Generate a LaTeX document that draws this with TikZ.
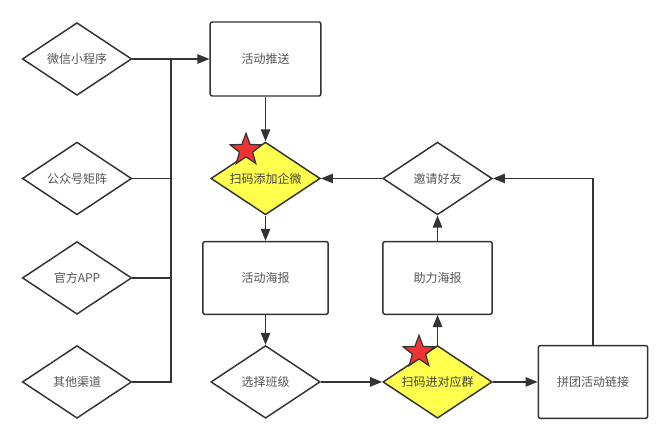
\documentclass[tikz,border=0pt]{standalone}
\usepackage{fontspec}
\newfontfamily\cjk{Noto Sans CJK SC}
\usepackage{tikz}
\usetikzlibrary{arrows.meta,shapes.geometric,positioning,calc}

\definecolor{linegray}{HTML}{333333}
\definecolor{textgray}{HTML}{555555}
\definecolor{mark yellow}{HTML}{FFFF4D}
\definecolor{mark red}{HTML}{EE3333}

\begin{document}
\begin{tikzpicture}[x=0.75pt,y=-0.75pt,->,>={Triangle[length=9pt,width=7pt]},
  line width=1.1pt,draw=linegray,
  choice node/.style={diamond,draw=linegray,fill=white,aspect=1.5,inner sep=0pt,
  minimum width=82pt,minimum height=54.5pt,text=textgray,
  font=\cjk\fontsize{9}{11}\selectfont},
  hot node/.style={choice node,fill=mark yellow,text=black!75},
  step node/.style={rectangle,rounded corners=1.5pt,draw=linegray,fill=white,
  minimum width=82pt,minimum height=54.5pt,text=textgray,
  font=\cjk\fontsize{9}{11}\selectfont},
  star node/.style={star,star points=5,star point ratio=2.4,draw=linegray,
  fill=mark red,line width=0.9pt,minimum size=25pt,inner sep=0pt}]

  \useasboundingbox (0,0) rectangle (670,441);

  % channels
  \node[choice node] (C1) at (77,59) {微信小程序};
  \node[choice node] (C2) [below of=C1, node distance=89.6pt] {公众号矩阵};
  \node[choice node] (C3) [below of=C2, node distance=74.6pt] {官方APP};
  \node[choice node] (C4) [below of=C3, node distance=78pt] {其他渠道};

  % main flow
  \node[step node] (P1) [right of=C1, node distance=141.4pt, minimum width=83pt, minimum height=55.5pt] {活动推送};
  \node[hot node] (D1) [below of=P1, node distance=89.6pt] {扫码添加企微};
  \node[step node] (P2) [below of=D1, node distance=74.6pt, minimum width=94pt] {活动海报};
  \node[choice node] (D2) [below of=P2, node distance=78pt] {选择班级};
  \node[hot node] (D3) [right of=D2, node distance=129pt] {扫码进对应群};
  \node[step node] (P3) [above of=D3, node distance=78pt] {助力海报};
  \node[choice node] (D4) [above of=P3, node distance=74.6pt] {邀请好友};
  \node[step node] (P4) [right of=D3, node distance=116.6pt] {拼团活动链接};

  \node[star node] (S1) at (246,150) {};
  \node[star node] (S2) at (419,352) {};

  \coordinate (B1) at ($(C1.east)!0.5!(P1.west)$);

%channels into the bus
  \draw (C1) -- (P1);
  \draw [-] (C2.east) -- (C2.east -| B1);
  \draw [-] (C3.east) -- (C3.east -| B1);
  \draw [-] (C4.east) -| (B1);

%main flow
  \draw (P1) -- (D1);
  \draw (D1) -- (P2);
  \draw (P2) -- (D2);
  \draw (D2) -- (D3);
  \draw (D3) -- (P4);
  \draw (D3) -- (P3);
  \draw (P3) -- (D4);
  \draw (D4) -- (D1);
  \draw (P4.north) |- (D4.east);

\end{tikzpicture}
\end{document}
